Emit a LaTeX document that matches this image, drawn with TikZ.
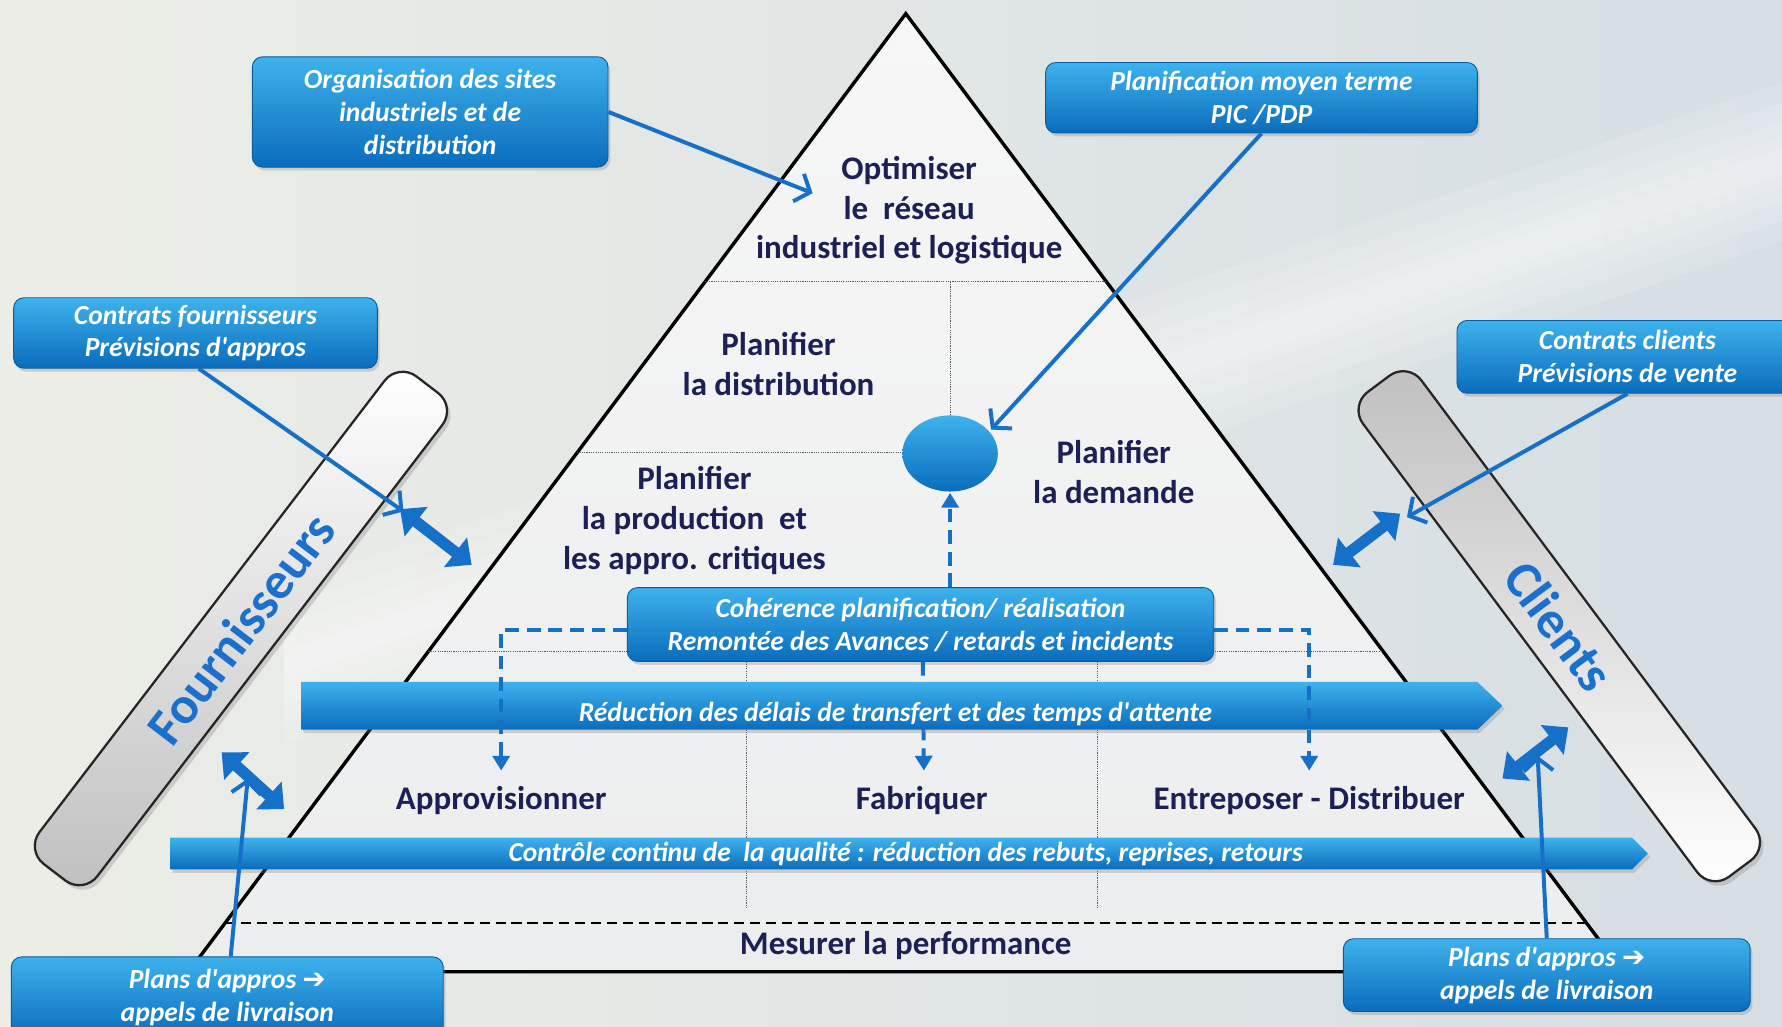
\documentclass[tikz,border=0pt]{standalone}
\usepackage{fontspec}
\setmainfont{Carlito}[Ligatures=TeXOff]
\newfontfamily\symf{DejaVu Sans}
\usetikzlibrary{arrows.meta,shapes.geometric,shadows,calc}
\definecolor{bgA}{RGB}{236,237,230}
\definecolor{bgB}{RGB}{214,222,228}
\definecolor{navy}{RGB}{28,32,85}
\definecolor{boxTop}{RGB}{62,178,236}
\definecolor{boxBot}{RGB}{10,108,188}
\definecolor{lineBlue}{RGB}{22,112,200}
\definecolor{fourBlue}{RGB}{28,112,205}
\definecolor{triTop}{RGB}{246,246,246}
\definecolor{triBot}{RGB}{236,237,238}
\begin{document}
\begin{tikzpicture}[x=1pt,y=-1pt,
  lbl/.style={rounded corners=9pt, top color=boxTop, bottom color=boxBot,
    draw=boxBot!85!black, line width=0.8pt,
    drop shadow={opacity=0.3, shadow xshift=2pt, shadow yshift=-3pt},
    text=white, font=\fontsize{24.3}{29}\selectfont\bfseries\itshape,
    align=center, inner sep=0pt},
  pyr/.style={text=navy, font=\fontsize{29}{35}\selectfont\bfseries, align=center},
  bandtxt/.style={text=white, font=\fontsize{24.2}{27}\selectfont\bfseries\itshape},
  conn/.style={lineBlue, line width=3.5pt, -{Straight Barb[length=11pt,width=26pt,line width=3.5pt]}},
  dbl/.style={lineBlue, line width=10pt, {Triangle[length=18pt,width=32pt]}-{Triangle[length=18pt,width=32pt]}},
  dsh/.style={lineBlue, line width=3.5pt, dash pattern=on 12pt off 7pt, -{Triangle[length=13pt,width=15pt]}},
  dotln/.style={gray!70!black, line width=1pt, densely dotted},
  bar/.style={draw=black!85, line width=2pt, rounded corners=20pt,
    drop shadow={opacity=0.3, shadow xshift=3pt, shadow yshift=-4pt},
    text=fourBlue, font=\fontsize{46}{46}\selectfont\bfseries, inner sep=0pt},
  glow/.style={fill=white, opacity=0.13, draw=none}
]
\useasboundingbox (0,0) rectangle (1568,903);
% background
\fill[left color=bgA, right color=bgB] (0,0) rectangle (1568,903);
% light streak (soft, stacked)
\foreach \w in {70,52,36,22,12}{
  \fill[glow] (250,{585-\w}) -- (1620,{125-\w}) -- (1620,{125+\w}) -- (250,{585+\w}) -- cycle;
}
% bars
\node[bar, rotate=52.6, minimum width=540pt, minimum height=64pt,
  top color=white, bottom color=gray!50] (fbar) at (212,553) {Fournisseurs};
\node[bar, rotate=-53.3, minimum width=532pt, minimum height=64pt,
  top color=gray!50, bottom color=white] (cbar) at (1372,551) {Clients};
% pyramid
\path[draw=black, line width=3pt, top color=triTop, bottom color=triBot, line join=miter]
  (797,12) -- (1428,855) -- (166,855) -- cycle;
\draw[dotln] (620,248) -- (974,248);
\draw[dotln] (836,248) -- (836,370);
\draw[dotln] (508,398) -- (800,398);
\draw[dotln] (377,573) -- (1217,573);
\draw[dotln] (657,578) -- (657,800);
\draw[dotln] (966,578) -- (966,800);
\draw[black, line width=2pt, dash pattern=on 9pt off 5pt] (198,812) -- (1396,812);
% ellipse
\node[ellipse, minimum width=84pt, minimum height=67pt, inner sep=0pt,
  top color=boxTop, bottom color=boxBot] (ell) at (836,399) {};
% pyramid texts
\node[pyr] (opt) at (800,185) {Optimiser\\le\ \ réseau\\industriel et logistique};
\node[pyr] (pdist) at (685,320) {Planifier\\la distribution};
\node[pyr] (pprod) at (611,458) {Planifier\\la production\ \ et\\les appro. critiques};
\node[pyr] (pdem) at (980,415) {Planifier\\la demande};
\node[pyr] (appro) at (441,704) {Approvisionner};
\node[pyr] (fab) at (811,704) {Fabriquer};
\node[pyr] (entr) at (1152,704) {Entreposer - Distribuer};
\node[pyr] (mes) at (797,832) {Mesurer la performance};
% coherence box
\node[lbl, minimum width=516pt, minimum height=65pt] (coh) at (810,549.5)
  {Cohérence planification/ réalisation\\Remontée des Avances / retards et incidents};
\draw[dsh, shorten >=1pt] (coh.north -| ell.south) -- (ell.south);
\draw[dsh, shorten >=10pt] ([xshift=2pt]coh.south) -- ([xshift=2pt]fab.north);
% bands
\path[top color=boxTop, bottom color=boxBot,
  drop shadow={opacity=0.3, shadow xshift=2pt, shadow yshift=-3pt}]
  (265,600) -- (1300,600) -- (1322,621) -- (1300,642) -- (265,642) -- cycle;
\node[bandtxt] (redtxt) at (788,628) {Réduction des délais de transfert et des temps d'attente};
\path[top color=boxTop, bottom color=boxBot,
  drop shadow={opacity=0.3, shadow xshift=2pt, shadow yshift=-3pt}]
  (150,737) -- (1436,737) -- (1450,751) -- (1436,765) -- (150,765) -- cycle;
\node[bandtxt] (ctltxt) at (797,751) {Contrôle continu de\ \ la qualité : réduction des rebuts, reprises, retours};
% dashed side arrows
\draw[dsh, shorten >=10pt] ([yshift=-5pt]coh.west) -| (appro.north);
\draw[dsh, shorten >=10pt] ([yshift=-5pt]coh.east) -| (entr.north);
% label boxes
\node[lbl, minimum width=313pt, minimum height=97pt] (b1) at (378.5,98.5)
  {Organisation des sites\\industriels et de\\distribution};
\node[lbl, minimum width=380pt, minimum height=62pt] (b2) at (1110,86)
  {Planification moyen terme\\PIC /PDP};
\node[lbl, minimum width=320pt, minimum height=62pt] (b3) at (172,293)
  {Contrats fournisseurs\\Prévisions d'appros};
\node[lbl, minimum width=300pt, minimum height=64pt] (b4) at (1432,314)
  {Contrats clients\\Prévisions de vente};
\node[lbl, minimum width=380pt, minimum height=72pt] (b5) at (200,878)
  {Plans d'appros {\symf ➔}\\appels de livraison};
\node[lbl, minimum width=358pt, minimum height=64pt] (b6) at (1361,858)
  {Plans d'appros {\symf ➔}\\appels de livraison};
% targets
\coordinate (t1) at (715,170);
\coordinate (t2) at (872,378);
\coordinate (t3) at (355,450);
\coordinate (t4) at (1238,455);
\coordinate (t5) at (218,685);
\coordinate (t6) at (1353,665);
% double arrows
\coordinate (d1a) at (352,448); \coordinate (d1b) at (415,497);
\coordinate (d2a) at (195,662); \coordinate (d2b) at (250,712);
\coordinate (d3a) at (1232,452); \coordinate (d3b) at (1173,497);
\coordinate (d4a) at (1380,640); \coordinate (d4b) at (1322,685);
\draw[dbl] (d1a) -- (d1b);
\draw[dbl] (d2a) -- (d2b);
\draw[dbl] (d3a) -- (d3b);
\draw[dbl] (d4a) -- (d4b);
% connectors
\draw[conn] (b1.east) -- (t1);
\draw[conn] (b2.south) -- (t2);
\draw[conn] ([xshift=3pt]b3.south) -- (t3);
\draw[conn] (b4.south) -- (t4);
\draw[conn] ([xshift=3pt]b5.north) -- (t5);
\draw[conn] (b6.north) -- (t6);
\end{tikzpicture}
\end{document}
